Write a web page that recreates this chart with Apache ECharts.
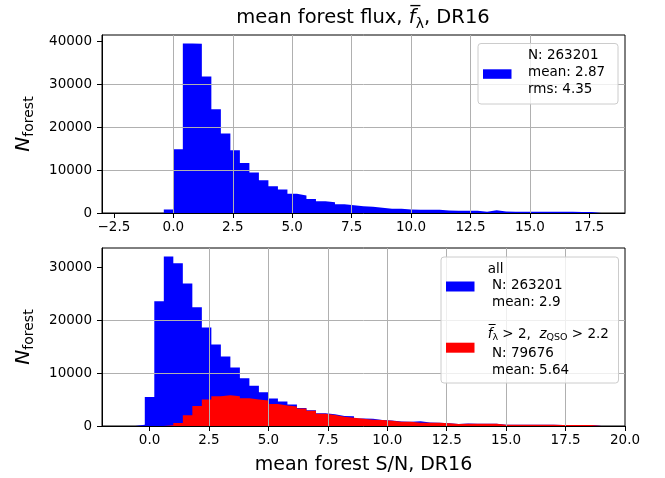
<!DOCTYPE html>
<html>
<head>
<meta charset="utf-8">
<script src="https://cdn.jsdelivr.net/npm/echarts@6/dist/echarts.min.js"></script>
<style>
  html, body { margin: 0; padding: 0; background: #fff; }
  #chart { width: 665px; height: 478px; }
</style>
</head>
<body>
<div id="chart"></div>
<script>
// histogram bins: left edge of first bin and common width
var binWidth = 0.4;
var fluxStart = -2.0;
var snStart = -1.0;

// mean forest flux, all forests (50 bins from -2 to 18)
var fluxCounts = [0, 0, 0, 0, 800, 14900, 39600, 39500, 31900, 24250,
  18560, 14660, 11700, 9430, 7640, 6240, 5460, 4520, 4060, 3280,
  2730, 2500, 2030, 1790, 1560, 1480, 1250, 1010, 1000, 790,
  780, 770, 760, 560, 550, 540, 530, 300, 620, 330,
  320, 310, 300, 290, 280, 280, 270, 260, 250, 240];

// mean forest S/N, all forests (50 bins from -1 to 19)
var snAll = [0, 250, 5500, 23600, 32100, 30800, 27000, 22470, 18670, 15440,
  13170, 11080, 9050, 7600, 6390, 5190, 4620, 4050, 3420, 2960,
  2400, 2210, 1900, 1840, 1400, 1390, 1150, 1020, 830, 820,
  890, 640, 630, 510, 390, 450, 440, 440, 430, 240,
  240, 230, 230, 220, 220, 210, 210, 200, 200, 200];

// mean forest S/N, f > 2 and z_QSO > 2.2
var snCut = [0, 0, 0, 0, 130, 570, 2030, 3800, 5000, 5630,
  5820, 5630, 5250, 5000, 4810, 4180, 3860, 3670, 3290, 2880,
  2340, 2090, 1770, 1580, 1390, 1200, 1140, 1010, 820, 810,
  630, 630, 620, 510, 380, 440, 440, 430, 430, 240,
  240, 230, 230, 220, 220, 210, 210, 200, 200, 200];

// tick labels
var fluxTicks = [-2.5, 0, 2.5, 5, 7.5, 10, 12.5, 15, 17.5];
var snTicks = [0, 2.5, 5, 7.5, 10, 12.5, 15, 17.5, 20];
var fluxCountTicks = [0, 10000, 20000, 30000, 40000];
var snCountTicks = [0, 10000, 20000, 30000];

var FONT = 'DejaVu Sans';

// step outline of a histogram: one point per bin edge
function stepData(start, counts) {
  var pts = [];
  for (var i = 0; i <= counts.length; i++) {
    pts.push([start + i * binWidth, counts[Math.min(i, counts.length - 1)]]);
  }
  return pts;
}

function histSeries(idx, start, counts, color) {
  return {
    type: 'line',
    xAxisIndex: idx,
    yAxisIndex: idx,
    step: 'end',
    showSymbol: false,
    symbol: 'none',
    silent: true,
    lineStyle: { width: 0, opacity: 0 },
    areaStyle: { color: color, opacity: 1 },
    data: stepData(start, counts)
  };
}

function xAxisOpt(idx, min, max, ticks, name) {
  return {
    type: 'value', gridIndex: idx, min: min, max: max, z: 5,
    name: name || '',
    nameLocation: 'middle',
    nameGap: 30,
    nameMoveOverlap: false,
    nameTextStyle: { fontFamily: FONT, fontSize: 19, color: '#000' },
    axisLine: { show: true, onZero: false, lineStyle: { color: '#000', width: 1 } },
    axisTick: { show: true, customValues: ticks, length: 5, lineStyle: { color: '#000', width: 1 } },
    axisLabel: {
      customValues: ticks, margin: 7, fontFamily: FONT, fontSize: 13.5, color: '#000',
      hideOverlap: false,
      formatter: function (v) { return v.toFixed(1).replace('-', '\u2212'); }
    },
    splitLine: { show: true, showMinLine: false, showMaxLine: false,
      lineStyle: { color: '#b0b0b0', width: 1 } }
  };
}

function yAxisOpt(idx, max, ticks) {
  return {
    type: 'value', gridIndex: idx, min: 0, max: max, z: 5,
    name: '{n|N}{s|forest}',
    nameLocation: 'middle',
    nameRotate: 90,
    nameGap: 66,
    nameMoveOverlap: false,
    nameTextStyle: {
      rich: {
        n: { fontFamily: FONT, fontSize: 20, fontStyle: 'italic', color: '#000', lineHeight: 24 },
        s: { fontFamily: FONT, fontSize: 14, color: '#000', lineHeight: 14, verticalAlign: 'bottom' }
      }
    },
    axisLine: { show: true, onZero: false, lineStyle: { color: '#000', width: 1 } },
    axisTick: { show: true, customValues: ticks, length: 5, lineStyle: { color: '#000', width: 1 } },
    axisLabel: { customValues: ticks, margin: 10, fontFamily: FONT, fontSize: 13.5, color: '#000',
      formatter: function (v) { return String(Math.round(v)); } },
    splitLine: { show: true, showMinLine: false, showMaxLine: false,
      lineStyle: { color: '#b0b0b0', width: 1 } }
  };
}

var mathRich = {
  t: { fontFamily: FONT, fontSize: 13.5, color: '#000' },
  m: { fontFamily: FONT, fontSize: 13.5, fontStyle: 'italic', color: '#000', lineHeight: 18 },
  sub: { fontFamily: FONT, fontSize: 9.5, color: '#000', lineHeight: 10, verticalAlign: 'bottom' }
};

var option = {
  backgroundColor: '#fff',
  animation: false,
  grid: [
    { left: 102, top: 35, width: 523, height: 178, show: true, borderColor: '#000', borderWidth: 1,
      backgroundColor: '#fff', outerBoundsMode: 'none' },
    { left: 102, top: 248, width: 523, height: 178, show: true, borderColor: '#000', borderWidth: 1,
      backgroundColor: '#fff', outerBoundsMode: 'none' }
  ],
  xAxis: [
    xAxisOpt(0, -3, 19, fluxTicks),
    xAxisOpt(1, -2, 20, snTicks, 'mean forest S/N, DR16')
  ],
  yAxis: [
    yAxisOpt(0, 41570, fluxCountTicks),
    yAxisOpt(1, 33700, snCountTicks)
  ],
  series: [
    histSeries(0, fluxStart, fluxCounts, '#0000ff'),
    histSeries(1, snStart, snAll, '#0000ff'),
    histSeries(1, snStart, snCut, '#ff0000')
  ],
  graphic: [
    // title
    { type: 'text', x: 363, y: 18, z: 100,
      style: {
        text: 'mean forest flux, {m|f\u0305}{sub|\u03bb}, DR16',
        fontFamily: FONT, fontSize: 19.5, fill: '#000',
        align: 'center', textAlign: 'center', verticalAlign: 'middle', textVerticalAlign: 'middle',
        rich: {
          m: { fontFamily: FONT, fontSize: 19.5, fontStyle: 'italic', lineHeight: 26 },
          sub: { fontFamily: FONT, fontSize: 14, lineHeight: 14, verticalAlign: 'bottom' }
        }
      } },
    // top legend
    { type: 'rect', z: 100, shape: { x: 478, y: 43.5, width: 140, height: 60.5, r: 3 },
      style: { fill: 'rgba(255,255,255,0.8)', stroke: '#cccccc', lineWidth: 1 } },
    { type: 'rect', z: 101, shape: { x: 483, y: 69.3, width: 28.5, height: 9.5 },
      style: { fill: '#0000ff' } },
    { type: 'text', z: 101, x: 528, y: 72.5,
      style: { text: 'N: 263201\nmean: 2.87\nrms: 4.35', fontFamily: FONT, fontSize: 13.5,
        lineHeight: 17, fill: '#000', verticalAlign: 'middle', textVerticalAlign: 'middle' } },
    // bottom legend
    { type: 'rect', z: 100, shape: { x: 441, y: 257, width: 177.5, height: 126, r: 3 },
      style: { fill: 'rgba(255,255,255,0.8)', stroke: '#cccccc', lineWidth: 1 } },
    { type: 'rect', z: 101, shape: { x: 446, y: 281.5, width: 28.5, height: 10 },
      style: { fill: '#0000ff' } },
    { type: 'text', z: 101, x: 487.7, y: 285.7,
      style: { text: 'all\n N: 263201\n mean: 2.9', fontFamily: FONT, fontSize: 13.5,
        lineHeight: 16.4, fill: '#000', verticalAlign: 'middle', textVerticalAlign: 'middle' } },
    { type: 'rect', z: 101, shape: { x: 446, y: 342.7, width: 28.5, height: 10 },
      style: { fill: '#ff0000' } },
    { type: 'text', z: 101, x: 487.7, y: 334,
      style: { text: '{m|f\u0305}{sub|\u03bb}{t| > 2,  }{m|z}{sub|QSO}{t| > 2.2}',
        fontFamily: FONT, fontSize: 13.5, fill: '#000', rich: mathRich,
        verticalAlign: 'middle', textVerticalAlign: 'middle' } },
    { type: 'text', z: 101, x: 487.7, y: 362,
      style: { text: ' N: 79676\n mean: 5.64', fontFamily: FONT, fontSize: 13.5,
        lineHeight: 17.4, fill: '#000', verticalAlign: 'middle', textVerticalAlign: 'middle' } }
  ]
};

var myChart = echarts.init(document.getElementById('chart'));
myChart.setOption(option);
</script>
</body>
</html>
